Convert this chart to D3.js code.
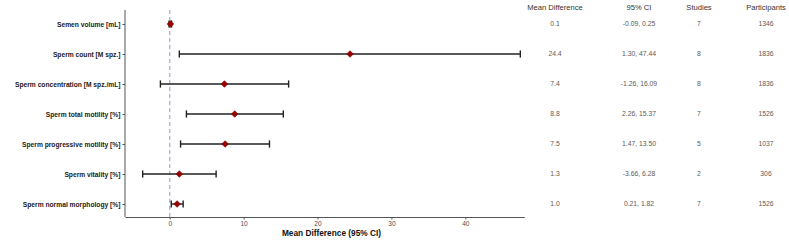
<!DOCTYPE html>
<html><head><meta charset="utf-8">
<script src="https://cdn.jsdelivr.net/npm/d3@7"></script>
<style>body{margin:0;background:#fff}svg{display:block}</style>
</head><body><svg id="c" width="789" height="241"></svg>
<script>
const outcomes = ["Semen volume [mL]","Sperm count [M spz.]","Sperm concentration [M spz./mL]","Sperm total motility [%]","Sperm progressive motility [%]","Sperm vitality [%]","Sperm normal morphology [%]"];
const meanDiff = [0.1, 24.4, 7.4, 8.8, 7.5, 1.3, 1.0];
const ciLow = [-0.09, 1.30, -1.26, 2.26, 1.47, -3.66, 0.21];
const ciHigh = [0.25, 47.44, 16.09, 15.37, 13.50, 6.28, 1.82];
const studies = [7, 8, 8, 7, 5, 2, 7];
const participants = [1346, 1836, 1836, 1526, 1037, 306, 1526];
const xTicks = [0, 10, 20, 30, 40];
const colHeaders = ["Mean Difference","95% CI","Studies","Participants"];

const svg = d3.select("#c");
const x = d3.scaleLinear().domain([-6.05, 47.98]).range([125, 524.3]);
const y = d3.scalePoint().domain(outcomes).range([24, 204]);
const font = "Liberation Sans, Arial, sans-serif";

// dashed zero line
svg.append("line").attr("x1", x(0)).attr("x2", x(0)).attr("y1", 10).attr("y2", 217)
  .attr("stroke", "#b3b3ea").attr("stroke-width", 1.4).attr("stroke-dasharray", "4,3");

// x axis
const xa = svg.append("g").attr("transform", "translate(0,217)")
  .call(d3.axisBottom(x).tickValues(xTicks).tickSize(2.5).tickPadding(2).tickSizeOuter(0));
xa.select(".domain").attr("stroke", "#555").attr("stroke-width", 1);
xa.selectAll(".tick line").attr("stroke", "#555");
xa.selectAll("text").attr("font-family", font).attr("font-size", 6.6).attr("fill", "#4d4d4d");
// y axis
const ya = svg.append("g").attr("transform", "translate(125,0)")
  .call(d3.axisLeft(y).tickSize(2.5).tickPadding(2));
ya.select(".domain").attr("d", "M0,10V217").attr("stroke", "#555");
ya.selectAll(".tick line").attr("stroke", "#555");
ya.selectAll("text").attr("font-family", font).attr("font-size", 6.7).attr("font-weight", "bold").attr("fill", "#1a1a1a");

svg.append("text").attr("x", 331.5).attr("y", 236).attr("text-anchor", "middle")
  .attr("font-family", font).attr("font-size", 8.3).attr("font-weight", "bold").attr("fill", "#111")
  .text("Mean Difference (95% CI)");

// error bars
const g = svg.append("g");
outcomes.forEach((o, i) => {
  const yy = y(o);
  g.append("line").attr("x1", x(ciLow[i])).attr("x2", x(ciHigh[i])).attr("y1", yy).attr("y2", yy)
    .attr("stroke", "#222").attr("stroke-width", 1.4);
  [ciLow[i], ciHigh[i]].forEach(v => {
    g.append("line").attr("x1", x(v)).attr("x2", x(v)).attr("y1", yy - 3.6).attr("y2", yy + 3.6)
      .attr("stroke", "#222").attr("stroke-width", 1.4);
  });
  g.append("path").attr("d", d3.symbol(d3.symbolSquare, 22)())
    .attr("transform", `translate(${x(meanDiff[i])},${yy}) rotate(45)`)
    .attr("fill", "#9b0000").attr("stroke", "#7a0000").attr("stroke-width", 0.6);
});

// table columns
const colX = [555, 639, 699, 766];
colHeaders.forEach((h, j) => {
  svg.append("text").attr("x", colX[j]).attr("y", 9.5).attr("text-anchor", "middle")
    .attr("font-family", font).attr("font-size", 7.6).attr("fill", "#333").text(h);
});
outcomes.forEach((o, i) => {
  const vals = [meanDiff[i].toFixed(1), ciLow[i].toFixed(2) + ", " + ciHigh[i].toFixed(2), String(studies[i]), String(participants[i])];
  vals.forEach((v, j) => {
    svg.append("text").attr("x", colX[j]).attr("y", y(o) + 2.4).attr("text-anchor", "middle")
      .attr("font-family", font).attr("font-size", 6.8).attr("fill", "#5a5a5a").text(v);
  });
});
</script></body></html>
